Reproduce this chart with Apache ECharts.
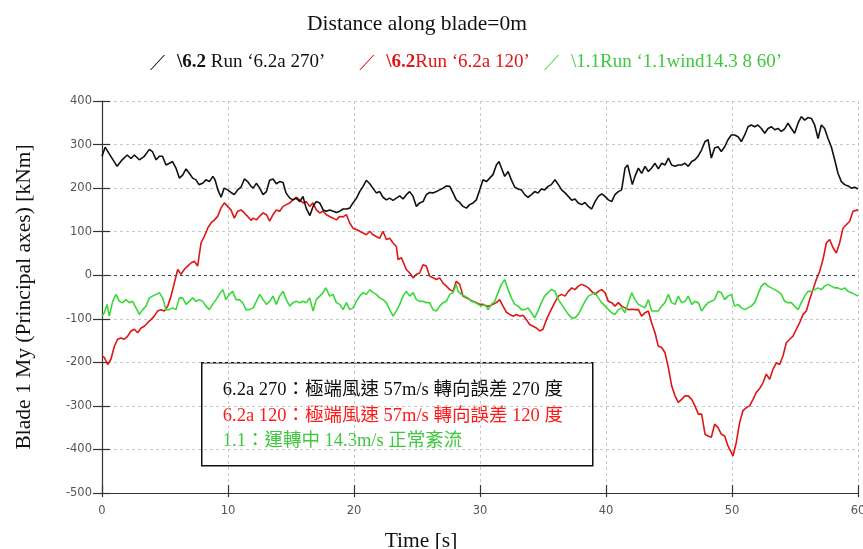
<!DOCTYPE html>
<html>
<head>
<meta charset="utf-8">
<script src="https://cdn.jsdelivr.net/npm/echarts@6/dist/echarts.min.js"></script>
<style>
  html, body { margin: 0; padding: 0; background: #fff; }
  #chart { width: 863px; height: 549px; }
</style>
</head>
<body>
<div id="chart"></div>
<script>
// Blade 1 root bending moment My (principal axes), kNm, versus time, s

// Run 6.2a 270
const time270 = [
  0,0.25,0.7,1.2,1.6,2.0,2.3,2.57,2.96,3.36,3.76,4.0,4.3,4.55,4.8,5.08,5.35,5.6,5.87,6.14,6.4,6.67,6.93,7.2,7.46,7.7,7.99,8.25,8.52,8.8,8.97,9.2,9.45,9.7,9.97,10.24,10.5,10.77,11.03,11.3,11.56,11.83,
  12.0,12.25,12.52,12.78,13.05,13.3,13.57,13.84,14.1,14.37,14.6,14.9,15.16,15.4,15.7,15.95,16.2,16.5,16.75,17.0,17.28,17.55,17.8,18.07,18.34,18.6,18.87,19.13,19.4,19.66,19.92,20.2,20.45,20.72,20.98,21.25,21.5,21.77,22.04,22.3,22.57,22.83,23.1,23.36,23.63,
  23.89,24.16,24.42,24.69,24.95,25.21,25.48,25.74,26.0,26.27,26.54,26.8,27.07,27.33,27.6,27.86,28.12,28.39,28.65,28.92,29.18,29.45,29.71,29.98,30.24,30.51,30.77,31.03,31.3,31.51,31.7,31.96,32.23,32.49,32.76,33.03,33.29,33.55,33.81,34.08,34.34,34.6,34.87,35.13,35.4,35.66,
  35.95,36.22,36.48,36.75,37.01,37.28,37.54,37.8,38.07,38.33,38.6,38.86,39.13,39.39,39.66,39.92,40.19,40.45,40.71,40.98,41.24,41.51,41.72,41.9,42.09,42.3,42.57,42.83,43.1,43.36,43.62,43.89,44.15,44.42,44.68,44.95,45.21,45.48,45.74,46.0,46.27,46.53,46.8,47.06,47.3,47.59,47.86,
  48.1,48.36,48.62,48.89,49.15,49.42,49.68,49.95,50.21,50.48,50.74,51.01,51.27,51.53,51.8,52.06,52.33,52.6,52.86,53.12,53.39,53.65,53.92,54.18,54.44,54.71,54.97,55.24,55.5,55.77,56.03,56.3,56.56,56.83,57.09,57.35,57.62,57.88,58.15,58.41,58.68,58.94,59.21,59.47,59.74,60
];
const my270 = [
  273,294,273,250,265,276,268,276,265,273,289,284,265,273,273,253,257,261,246,223,230,244,234,223,219,208,211,219,215,227,219,196,179,200,196,190,185,196,202,221,215,204,
  200,211,200,185,192,218,221,210,215,213,189,177,173,177,169,181,154,137,158,169,166,150,147,150,147,144,147,152,152,154,166,177,192,204,218,210,200,189,192,179,173,177,172,177,182,
  175,185,192,181,158,166,169,185,190,189,192,196,200,205,204,189,173,167,158,154,162,166,173,196,219,215,223,231,253,261,246,227,238,219,202,198,196,185,179,185,192,189,198,196,204,208,
  219,208,196,189,181,172,175,166,162,167,158,152,169,181,187,181,173,169,185,192,196,246,253,231,208,227,246,234,250,238,246,257,244,257,253,269,253,250,253,253,257,250,261,265,273,288,307,
  311,269,292,295,284,295,311,322,322,318,307,322,341,345,341,345,337,326,337,341,334,337,330,336,349,337,326,349,364,356,362,360,345,314,345,337,314,295,265,234,215,208,205,200,202,198
];

// Run 6.2a 120
const time120 = [
  0,0.19,0.45,0.71,0.98,1.24,1.51,1.77,2.04,2.3,2.57,2.83,3.1,3.36,3.62,3.89,4.15,4.42,4.68,4.95,5.21,5.48,5.74,6.01,6.27,6.53,6.8,7.06,7.33,7.59,7.86,8.12,8.39,8.65,8.92,9.18,9.44,9.71,9.97,10.24,10.5,10.77,11.03,11.3,11.56,11.83,
  12.0,12.25,12.5,12.78,13.05,13.31,13.57,13.84,14.1,14.37,14.63,14.9,15.16,15.43,15.69,15.95,16.22,16.48,16.75,17.01,17.28,17.54,17.81,18.07,18.34,18.6,18.87,19.13,19.4,19.66,19.92,20.19,20.45,20.72,20.98,21.25,21.51,21.77,22.04,22.3,22.57,22.83,23.1,23.36,23.5,23.76,
  24.16,24.42,24.69,24.95,25.21,25.48,25.74,26.0,26.27,26.54,26.8,27.07,27.33,27.6,27.86,28.12,28.39,28.65,28.92,29.18,29.45,29.71,29.98,30.24,30.51,30.77,31.03,31.3,31.56,31.83,32.09,32.36,32.62,32.89,33.15,33.42,33.68,33.94,34.21,34.47,34.74,35.0,35.27,35.53,35.93,
  36.22,36.48,36.75,37.01,37.28,37.54,37.8,38.07,38.33,38.6,38.86,39.13,39.39,39.66,39.92,40.19,40.45,40.71,40.98,41.24,41.51,41.77,42.04,42.3,42.57,42.83,43.1,43.36,43.62,43.89,44.15,44.42,44.68,44.95,45.21,45.48,45.74,46.0,46.27,46.53,46.8,47.06,47.33,47.59,47.86,
  48.1,48.36,48.62,48.89,49.15,49.42,49.68,50.08,50.34,50.61,50.87,51.14,51.4,51.67,51.93,52.2,52.46,52.72,52.99,53.25,53.52,53.78,54.05,54.31,54.58,54.84,55.11,55.37,55.64,55.9,56.16,56.43,56.69,56.96,57.22,57.49,57.75,58.02,58.28,58.54,58.81,59.07,59.34,59.6,60
];
const my120 = [
  -185,-189,-205,-193,-163,-147,-144,-147,-140,-128,-124,-132,-121,-117,-109,-102,-94,-82,-79,-82,-71,-48,-18,13,2,13,21,28,32,21,74,89,108,120,127,135,154,166,158,150,131,147,150,143,135,126,
  131,127,135,143,139,124,139,150,147,158,162,166,173,179,173,166,169,158,166,150,143,147,139,135,131,127,135,134,139,120,108,105,101,97,93,101,93,89,85,101,82,85,74,66,36,40,
  13,5,-6,2,5,24,21,-2,-6,-10,-6,-18,-25,-33,-37,-14,-21,-48,-52,-56,-60,-63,-67,-67,-71,-71,-67,-63,-56,-71,-85,-90,-94,-90,-94,-92,-102,-113,-117,-121,-128,-124,-102,-86,-63,
  -48,-44,-48,-37,-29,-33,-25,-21,-24,-29,-37,-44,-37,-33,-40,-60,-63,-71,-63,-71,-75,-79,-78,-79,-79,-94,-86,-82,-109,-132,-163,-166,-178,-212,-254,-277,-292,-285,-277,-277,-285,-300,-319,-319,-365,
  -369,-372,-342,-350,-365,-369,-392,-415,-384,-338,-311,-304,-300,-285,-269,-260,-247,-227,-239,-216,-201,-205,-185,-155,-147,-140,-124,-109,-90,-82,-56,-33,-10,9,36,74,82,63,51,74,108,116,124,147,150
];

// Run 1.1wind14.3 8 60
const time11 = [
  0,0.19,0.4,0.58,0.85,1.11,1.38,1.64,1.9,2.17,2.43,2.7,2.96,3.23,3.49,3.76,4.02,4.29,4.55,4.81,5.08,5.34,5.61,5.87,6.14,6.4,6.67,6.93,7.2,7.46,7.72,7.99,8.25,8.52,8.78,9.05,9.31,9.58,9.84,10.1,10.37,10.63,10.9,11.16,11.43,11.69,
  12.0,12.25,12.52,12.78,13.05,13.31,13.57,13.84,14.1,14.37,14.63,14.9,15.16,15.43,15.69,15.95,16.22,16.48,16.75,17.01,17.28,17.54,17.76,18.07,18.34,18.6,18.87,19.13,19.4,19.66,19.92,20.19,20.45,20.72,20.98,21.25,21.51,21.77,22.04,22.3,22.57,22.83,23.1,23.36,23.63,
  23.89,24.16,24.42,24.69,24.95,25.21,25.48,25.74,26.0,26.27,26.54,26.8,27.07,27.33,27.6,27.86,28.12,28.26,28.52,28.79,29.05,29.32,29.58,29.85,30.11,30.38,30.64,30.9,31.17,31.43,31.7,31.96,32.23,32.49,32.76,33.03,33.29,33.55,33.81,34.08,34.34,34.6,34.87,35.13,35.4,35.66,
  35.95,36.22,36.48,36.75,37.01,37.28,37.54,37.8,38.07,38.33,38.6,38.86,39.13,39.39,39.66,39.92,40.19,40.45,40.71,40.98,41.24,41.51,41.77,42.04,42.3,42.57,42.83,43.1,43.36,43.62,43.89,44.15,44.42,44.68,44.95,45.21,45.48,45.74,46.0,46.27,46.53,46.8,47.06,47.33,47.59,47.86,
  48.1,48.36,48.62,48.89,49.15,49.42,49.68,49.95,50.21,50.48,50.74,51.01,51.27,51.53,51.8,52.06,52.33,52.6,52.86,53.12,53.39,53.65,53.92,54.18,54.44,54.71,54.97,55.24,55.5,55.77,56.03,56.3,56.56,56.83,57.09,57.35,57.62,57.88,58.15,58.41,58.68,58.94,59.21,59.47,59.74,60
];
const my11 = [
  -94,-86,-67,-94,-60,-44,-60,-63,-56,-63,-60,-75,-90,-79,-71,-52,-48,-44,-40,-52,-79,-79,-75,-79,-52,-52,-67,-60,-52,-60,-56,-60,-71,-79,-67,-56,-44,-33,-56,-44,-37,-56,-56,-63,-79,-79,
  -75,-60,-44,-56,-67,-60,-48,-67,-48,-37,-56,-71,-63,-60,-63,-60,-63,-52,-82,-56,-48,-40,-29,-48,-44,-63,-67,-79,-63,-79,-75,-60,-48,-40,-44,-33,-40,-44,-52,-56,-63,-79,-94,-82,-67,
  -48,-37,-48,-40,-56,-60,-60,-63,-63,-79,-82,-71,-63,-60,-44,-40,-21,-37,-44,-48,-52,-60,-62,-67,-71,-67,-79,-67,-60,-40,-21,-10,-33,-52,-67,-71,-79,-79,-75,-86,-98,-82,-63,-48,-40,-33,
  -37,-56,-67,-79,-90,-98,-98,-90,-75,-60,-48,-44,-40,-52,-63,-71,-79,-86,-90,-79,-75,-86,-63,-40,-56,-67,-71,-75,-56,-82,-82,-82,-71,-63,-44,-63,-67,-48,-63,-60,-48,-67,-60,-63,-82,-71,
  -63,-60,-56,-37,-40,-56,-48,-44,-71,-67,-75,-79,-75,-71,-63,-44,-25,-18,-25,-29,-33,-37,-44,-60,-63,-63,-71,-79,-63,-48,-37,-37,-33,-29,-33,-25,-21,-25,-29,-29,-33,-29,-37,-40,-44,-48
];

// Axis ticks
const xTicks = { min: 0, max: 60, step: 10 };
const yTicks = { min: -500, max: 400, step: 100 };

const seriesNames = ['6.2a 270', '6.2a 120', '1.1wind14.3 8 60'];
const noteLines = [
  '6.2a 270：極端風速 57m/s 轉向誤差 270 度',
  '6.2a 120：極端風速 57m/s 轉向誤差 120 度',
  '1.1：運轉中 14.3m/s 正常紊流'
];

const COLORS = ['#111111', '#e01515', '#3ad83a'];
const SERIF = '"Liberation Serif", "Times New Roman", "Noto Sans CJK TC", serif';
const SANS = '"DejaVu Sans", Verdana, sans-serif';

function pairs(ts, vs) { return ts.map((t, i) => [t, vs[i]]); }

const chart = echarts.init(document.getElementById('chart'), null, { renderer: 'canvas' });

const legendLabels = {
  '6.2a 270': '{bk|\\6.2} {nk|Run ‘6.2a 270’}',
  '6.2a 120': '{br|\\6.2}{nr|Run ‘6.2a 120’}',
  '1.1wind14.3 8 60': '{ng|\\1.1Run ‘1.1wind14.3 8 60’}'
};

const legendRich = {
  bk: { fontFamily: SERIF, fontSize: 19, fontWeight: 'bold', color: '#111' },
  nk: { fontFamily: SERIF, fontSize: 19, color: '#111' },
  br: { fontFamily: SERIF, fontSize: 19, fontWeight: 'bold', color: '#e01515' },
  nr: { fontFamily: SERIF, fontSize: 19, color: '#e01515' },
  ng: { fontFamily: SERIF, fontSize: 19, color: '#3ec83e' }
};

function legendBlock(names, left) {
  return {
    data: names,
    left: left, top: 48,
    itemWidth: 15, itemHeight: 16, itemGap: 34,
    icon: 'path://M0,20 L1.6,20 L20,0 L18.4,0 Z',
    formatter: name => legendLabels[name],
    textStyle: { fontFamily: SERIF, fontSize: 19, padding: [0, 0, 0, 7], rich: legendRich }
  };
}

const baseAxisX = {
  type: 'value', min: xTicks.min, max: xTicks.max, interval: xTicks.step,
  position: 'bottom', gridIndex: 0
};
const baseAxisY = {
  type: 'value', min: yTicks.min, max: yTicks.max, interval: yTicks.step,
  position: 'left', gridIndex: 0
};

chart.setOption({
  animation: false,
  backgroundColor: '#ffffff',
  title: {
    text: 'Distance along blade=0m',
    left: 412, top: 9, textAlign: 'center',
    textStyle: { fontFamily: SERIF, fontSize: 21.5, fontWeight: 'normal', color: '#111' }
  },
  legend: [
    legendBlock([seriesNames[0], seriesNames[1]], 145),
    legendBlock([seriesNames[2]], 539)
  ],
  grid: { left: 102, right: 5, top: 101, bottom: 56, containLabel: false, outerBoundsMode: 'none' },
  xAxis: [
    Object.assign({}, baseAxisX, {
      name: 'Time [s]', nameLocation: 'middle', nameGap: 38,
      nameTextStyle: { fontFamily: SERIF, fontSize: 21.5, color: '#111', padding: [0, 118, 0, 0] },
      axisLine: { onZero: false, lineStyle: { color: '#333', width: 1.2 } },
      axisTick: { show: true, inside: false, length: 4, lineStyle: { color: '#333', width: 1.2 } },
      axisLabel: { fontFamily: SANS, fontSize: 11.5, color: '#555', margin: 12 },
      splitLine: { show: true, lineStyle: { color: '#c8c8c8', type: [3, 3], width: 1 } }
    }),
    Object.assign({}, baseAxisX, {
      axisLine: { show: false, onZero: false },
      axisTick: { show: true, inside: true, length: 8, lineStyle: { color: '#333', width: 1.2 } },
      axisLabel: { show: false },
      splitLine: { show: false }
    })
  ],
  yAxis: [
    Object.assign({}, baseAxisY, {
      name: 'Blade 1 My (Principal axes) [kNm]', nameLocation: 'middle', nameGap: 67,
      nameTextStyle: { fontFamily: SERIF, fontSize: 21.5, color: '#111' },
      axisLine: { onZero: false, lineStyle: { color: '#333', width: 1.2 } },
      axisTick: { show: true, inside: false, length: 9, lineStyle: { color: '#333', width: 1.2 } },
      axisLabel: { fontFamily: SANS, fontSize: 11.5, color: '#555', margin: 10 },
      splitLine: { show: true, lineStyle: { color: '#c8c8c8', type: [3, 3], width: 1 } }
    }),
    Object.assign({}, baseAxisY, {
      axisLine: { show: false, onZero: false },
      axisTick: { show: true, inside: true, length: 8, lineStyle: { color: '#333', width: 1.2 } },
      axisLabel: { show: false },
      splitLine: { show: false }
    })
  ],
  series: [
    {
      name: seriesNames[0], type: 'line', data: pairs(time270, my270),
      showSymbol: false, symbol: 'none', color: COLORS[0],
      lineStyle: { width: 1.6, color: COLORS[0] }, z: 4,
      markLine: {
        silent: true, symbol: 'none', label: { show: false },
        lineStyle: { color: '#444', type: [3, 3], width: 1.2 },
        data: [{ yAxis: 0 }]
      }
    },
    {
      name: seriesNames[1], type: 'line', data: pairs(time120, my120),
      showSymbol: false, symbol: 'none', color: COLORS[1],
      lineStyle: { width: 1.6, color: COLORS[1] }, z: 3
    },
    {
      name: seriesNames[2], type: 'line', data: pairs(time11, my11),
      showSymbol: false, symbol: 'none', color: COLORS[2],
      lineStyle: { width: 1.6, color: COLORS[2] }, z: 3
    }
  ],
  graphic: [
    {
      type: 'group', left: 201, top: 362, z: 100,
      children: [
        { type: 'rect', shape: { x: 0, y: 0, width: 391, height: 103 },
          style: { fill: '#ffffff', stroke: '#111', lineWidth: 1.5 } },
        { type: 'text', x: 21, y: 27,
          style: { text: noteLines[0], font: '18.5px ' + SERIF, fill: '#111', verticalAlign: 'middle' } },
        { type: 'text', x: 21, y: 53,
          style: { text: noteLines[1], font: '18.5px ' + SERIF, fill: '#ff1a1a', verticalAlign: 'middle' } },
        { type: 'text', x: 21, y: 78,
          style: { text: noteLines[2], font: '18.5px ' + SERIF, fill: '#3ec83e', verticalAlign: 'middle' } }
      ]
    }
  ]
});
</script>
</body>
</html>
